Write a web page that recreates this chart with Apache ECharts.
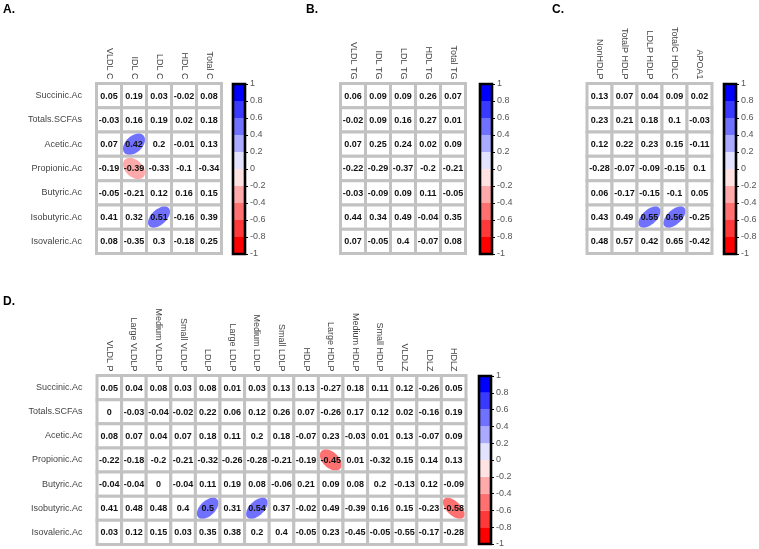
<!DOCTYPE html>
<html><head><meta charset="utf-8">
<script src="https://cdn.jsdelivr.net/npm/echarts@6/dist/echarts.min.js"></script>
<style>html,body{margin:0;padding:0;background:#fff}#c{width:759px;height:549px}</style>
</head><body><div id="c"></div><script>
const rowLabels = ['Succinic.Ac','Totals.SCFAs','Acetic.Ac','Propionic.Ac','Butyric.Ac','Isobutyric.Ac','Isovaleric.Ac'];

const colsA = ['VLDL C','IDL C','LDL C','HDL C','Total C'];
const valuesA = [
 [0.05,0.19,0.03,-0.02,0.08],
 [-0.03,0.16,0.19,0.02,0.18],
 [0.07,0.42,0.2,-0.01,0.13],
 [-0.19,-0.39,-0.33,-0.1,-0.34],
 [-0.05,-0.21,0.12,0.16,0.15],
 [0.41,0.32,0.51,-0.16,0.39],
 [0.08,-0.35,0.3,-0.18,0.25]];
const sigA = [[2,1],[3,1],[5,2]];

const colsB = ['VLDL TG','IDL TG','LDL TG','HDL TG','Total TG'];
const valuesB = [
 [0.06,0.09,0.09,0.26,0.07],
 [-0.02,0.09,0.16,0.27,0.01],
 [0.07,0.25,0.24,0.02,0.09],
 [-0.22,-0.29,-0.37,-0.2,-0.21],
 [-0.03,-0.09,0.09,0.11,-0.05],
 [0.44,0.34,0.49,-0.04,0.35],
 [0.07,-0.05,0.4,-0.07,0.08]];
const sigB = [];

const colsC = ['NonHDLP','TotalP HDLP','LDLP HDLP','TotalC HDLC','APOA1'];
const valuesC = [
 [0.13,0.07,0.04,0.09,0.02],
 [0.23,0.21,0.18,0.1,-0.03],
 [0.12,0.22,0.23,0.15,-0.11],
 [-0.28,-0.07,-0.09,-0.15,0.1],
 [0.06,-0.17,-0.15,-0.1,0.05],
 [0.43,0.49,0.55,0.56,-0.25],
 [0.48,0.57,0.42,0.65,-0.42]];
const sigC = [[5,2],[5,3]];

const colsD = ['VLDL P','Large VLDLP','Medium VLDLP','Small VLDLP','LDLP','Large LDLP','Medium LDLP','Small LDLP','HDLP','Large HDLP','Medium HDLP','Small HDLP','VLDLZ','LDLZ','HDLZ'];
const valuesD = [
 [0.05,0.04,0.08,0.03,0.08,0.01,0.03,0.13,0.13,-0.27,0.18,0.11,0.12,-0.26,0.05],
 [0,-0.03,-0.04,-0.02,0.22,0.06,0.12,0.26,0.07,-0.26,0.17,0.12,0.02,-0.16,0.19],
 [0.08,0.07,0.04,0.07,0.18,0.11,0.2,0.18,-0.07,0.23,-0.03,0.01,0.13,-0.07,0.09],
 [-0.22,-0.18,-0.2,-0.21,-0.32,-0.26,-0.28,-0.21,-0.19,-0.45,0.01,-0.32,0.15,0.14,0.13],
 [-0.04,-0.04,0,-0.04,0.11,0.19,0.08,-0.06,0.21,0.09,0.08,0.2,-0.13,0.12,-0.09],
 [0.41,0.48,0.48,0.4,0.5,0.31,0.54,0.37,-0.02,0.49,-0.39,0.16,0.15,-0.23,-0.58],
 [0.03,0.12,0.15,0.03,0.35,0.38,0.2,0.4,-0.05,0.23,-0.45,-0.05,-0.55,-0.17,-0.28]];
const sigD = [[3,9],[5,4],[5,6],[5,14]];

const colorbarTicks = [-1,-0.8,-0.6,-0.4,-0.2,0,0.2,0.4,0.6,0.8,1];
const panelTitles = ['A.','B.','C.','D.'];

// palette: red -> white -> blue, 10 bins (style)
const palette = [];
for (let i = 0; i < 10; i++) {
  const t = i / 9;
  let r, g, b;
  if (t <= 0.5) { const k = t / 0.5; r = 255; g = Math.round(255 * k); b = Math.round(255 * k); }
  else { const k = (t - 0.5) / 0.5; r = Math.round(255 * (1 - k)); g = Math.round(255 * (1 - k)); b = 255; }
  palette.push('rgb(' + r + ',' + g + ',' + b + ')');
}
function colorFor(v) {
  let idx = Math.floor((v + 1) / 0.2);
  if (idx > 9) idx = 9; if (idx < 0) idx = 0;
  return palette[idx];
}

const FONT = 'Liberation Sans, Arial, sans-serif';

const layouts = [
  {m: {left: 96.5, top: 83.5, width: 125, height: 170}, cb: {left: 233, top: 84, width: 12, height: 170}, rowLab: true},
  {m: {left: 340.5, top: 83.5, width: 125, height: 170}, cb: {left: 480, top: 84, width: 12, height: 170}, rowLab: false},
  {m: {left: 587, top: 83.5, width: 125, height: 170}, cb: {left: 724, top: 84, width: 12, height: 170}, rowLab: false},
  {m: {left: 97, top: 375.5, width: 369, height: 169}, cb: {left: 479, top: 376, width: 12, height: 168}, rowLab: true}
];
const panels = [
  {cols: colsA, vals: valuesA, sig: sigA},
  {cols: colsB, vals: valuesB, sig: sigB},
  {cols: colsC, vals: valuesC, sig: sigC},
  {cols: colsD, vals: valuesD, sig: sigD}
];

const grids = [], xAxes = [], yAxes = [], series = [];

function cellRender(params, api) {
  const c = api.coord([api.value(0), api.value(1)]);
  const s = api.size([1, 1]);
  const v = api.value(2);
  const sig = api.value(3);
  const children = [{
    type: 'rect',
    shape: {x: c[0] - s[0] / 2, y: c[1] - s[1] / 2, width: s[0], height: s[1]},
    style: {fill: '#fff', stroke: '#c2c2c2', lineWidth: 3}
  }];
  if (sig) {
    const d = Math.acos(v);
    const sx = (s[0] - 3) / 2, sy = (s[1] - 3) / 2;
    const pts = [];
    for (let k = 0; k < 72; k++) {
      const t = k / 72 * Math.PI * 2;
      pts.push([c[0] + Math.cos(t + d / 2) * sx, c[1] - Math.cos(t - d / 2) * sy]);
    }
    children.push({type: 'polygon', shape: {points: pts}, style: {fill: colorFor(v)}});
  }
  children.push({
    type: 'text',
    style: {text: String(v), x: c[0], y: c[1] + 0.5, align: 'center', verticalAlign: 'middle',
      fontSize: 9, fontWeight: 'bold', fontFamily: FONT, fill: '#111'}
  });
  return {type: 'group', children: children};
}

function binRender(params, api) {
  const p1 = api.coord([0, api.value(1)]);
  const p2 = api.coord([0, api.value(2)]);
  const w = api.size([1, 0])[0];
  return {type: 'rect', shape: {x: p1[0] - w / 2, y: p2[1], width: w, height: p1[1] - p2[1]},
    style: {fill: palette[api.value(3)]}};
}
function frameRender(params, api) {
  const p1 = api.coord([0, api.value(1)]);
  const p2 = api.coord([0, api.value(2)]);
  const w = api.size([1, 0])[0];
  return {type: 'rect', shape: {x: p1[0] - w / 2, y: p2[1], width: w, height: p1[1] - p2[1]},
    style: {fill: 'none', stroke: '#000', lineWidth: 2.6}};
}

panels.forEach((p, i) => {
  const L = layouts[i];
  const gi = grids.length;
  grids.push(Object.assign({outerBoundsMode: 'none', containLabel: false}, L.m));
  xAxes.push({type: 'category', gridIndex: gi, data: p.cols, position: 'top',
    axisLine: {show: false}, axisTick: {show: false}, splitLine: {show: false},
    axisLabel: {rotate: 90, fontSize: 9, color: '#444', margin: 4, fontFamily: FONT, interval: 0}});
  yAxes.push({type: 'category', gridIndex: gi, data: rowLabels, inverse: true,
    axisLine: {show: false}, axisTick: {show: false}, splitLine: {show: false},
    axisLabel: {show: L.rowLab, fontSize: 9, color: '#444', margin: 14.5, fontFamily: FONT, interval: 0}});
  const data = [];
  p.vals.forEach((row, r) => row.forEach((v, c) => {
    const isSig = p.sig.some(s => s[0] === r && s[1] === c) ? 1 : 0;
    data.push([c, r, v, isSig]);
  }));
  series.push({type: 'custom', xAxisIndex: gi, yAxisIndex: gi, renderItem: cellRender, data: data, silent: true});

  const cg = grids.length;
  grids.push(Object.assign({outerBoundsMode: 'none', containLabel: false}, L.cb));
  xAxes.push({type: 'category', gridIndex: cg, data: [''], show: false});
  yAxes.push({type: 'value', gridIndex: cg, min: -1, max: 1, interval: 0.2, position: 'right',
    axisLine: {show: false}, splitLine: {show: false},
    axisTick: {show: true, length: 3, inside: false, lineStyle: {color: '#000', width: 1}},
    axisLabel: {fontSize: 9, color: '#555', margin: 5, fontFamily: FONT,
      formatter: v => String(Math.round(v * 10) / 10)}});
  const bins = [];
  for (let k = 0; k < colorbarTicks.length - 1; k++) bins.push([0, colorbarTicks[k], colorbarTicks[k + 1], k]);
  series.push({type: 'custom', xAxisIndex: cg, yAxisIndex: cg, renderItem: binRender, data: bins, silent: true});
  series.push({type: 'custom', xAxisIndex: cg, yAxisIndex: cg, renderItem: frameRender,
    data: [[0, colorbarTicks[0], colorbarTicks[colorbarTicks.length - 1]]], silent: true, z: 3});
});

const titlePos = [{left: 3, top: 4}, {left: 306, top: 4}, {left: 552, top: 4}, {left: 3, top: 296}];
const option = {
  animation: false,
  backgroundColor: '#fff',
  title: panelTitles.map((t, i) => Object.assign({text: t, padding: 0,
    textStyle: {fontSize: 12, fontWeight: 'bold', color: '#000', fontFamily: FONT}}, titlePos[i])),
  grid: grids, xAxis: xAxes, yAxis: yAxes, series: series
};
const chart = echarts.init(document.getElementById('c'), null, {renderer: 'canvas'});
chart.setOption(option);
</script></body></html>
